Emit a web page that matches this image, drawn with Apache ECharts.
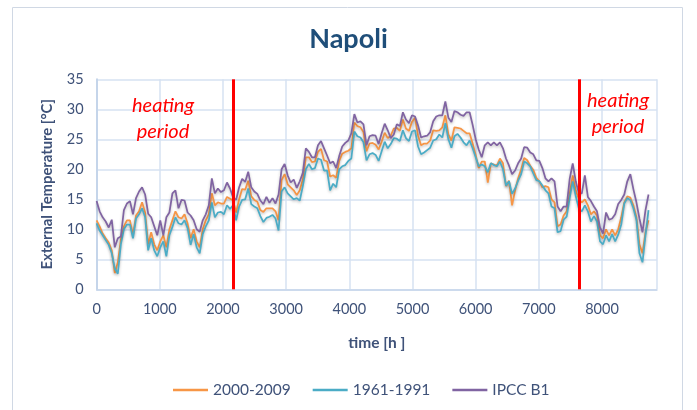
<!DOCTYPE html>
<html><head><meta charset="utf-8">
<script src="https://cdn.jsdelivr.net/npm/echarts@6/dist/echarts.min.js"></script>
<style>html,body{margin:0;padding:0;background:#fff}#c{width:697px;height:410px}</style>
</head><body><div id="c"></div>
<script>
// sampling times (h), every 48 h
const hours = Array.from({length: 183}, (_, i) => i * 48);
const seriesNames = ['2000-2009', '1961-1991', 'IPCC B1'];
const yTicks = [0, 5, 10, 15, 20, 25, 30, 35];
const xTicks = [0, 1000, 2000, 3000, 4000, 5000, 6000, 7000, 8000];
const heatingBounds = [2160, 7632];

const t2000_2009 = [
 11.5,10.5,9.3,8.5,7.8,6.5,2.7,4.5,8.3,10.5,11.5,11.5,9.0,12.3,13.0,14.5,12.8,7.5,9.5,7.5,6.5,8.0,9.0,7.0,10.0,11.5,13.0,12.0,11.8,12.5,11.0,8.5,10.0,8.0,7.0,10.0,11.5,12.5,16.0,
 14.0,14.5,14.3,14.3,15.4,15.1,14.8,12.8,15.0,16.7,16.6,18.1,15.5,14.9,14.6,13.2,12.9,13.5,13.5,13.5,13.0,11.5,18.2,19.2,17.5,17.0,16.5,15.7,16.5,18.3,22.0,22.0,21.2,21.3,22.9,23.4,21.5,
 21.3,18.8,19.0,18.6,21.4,22.6,22.9,23.1,23.5,27.8,27.2,27.0,26.2,23.0,24.3,24.4,24.1,23.3,24.6,26.1,25.2,25.6,26.8,26.9,26.4,28.3,26.8,26.4,27.9,28.6,25.6,24.0,24.3,24.3,24.8,26.5,
 26.4,26.5,27.0,29.0,25.8,24.8,27.0,26.9,26.8,26.4,26.0,26.0,24.3,22.4,20.2,21.3,21.3,17.8,21.0,20.8,20.6,21.8,21.0,17.2,18.1,14.0,16.5,18.5,20.0,21.9,21.5,20.6,19.9,18.6,18.0,17.0,
 17.2,17.0,15.0,14.5,10.5,10.8,12.3,13.0,16.0,19.0,16.5,15.0,14.5,15.0,14.0,12.5,13.0,12.3,9.0,8.5,10.0,9.0,10.0,9.0,10.0,12.0,14.5,15.5,15.3,14.0,12.0,7.5,6.0,9.5,11.5
];
const t1961_1991 = [
 11.0,9.8,9.0,8.2,7.4,6.0,3.5,2.6,7.5,10.0,10.8,10.8,8.5,11.8,12.5,13.5,12.0,6.5,8.5,6.5,5.5,7.0,8.0,5.5,9.0,10.4,12.0,11.0,10.8,11.5,10.2,7.4,9.2,7.0,6.0,9.2,10.5,11.5,14.5,
 12.0,12.8,12.9,12.5,14.0,13.4,14.0,11.5,13.8,14.9,15.0,16.8,14.2,13.8,13.5,12.2,11.2,11.9,12.1,12.4,11.8,9.8,16.3,17.0,16.0,15.5,15.0,15.2,14.8,17.2,20.0,20.9,20.0,20.2,21.8,21.6,19.8,
 19.8,16.5,17.6,17.0,20.0,20.5,20.7,21.4,21.8,26.3,25.5,25.3,24.5,21.5,22.5,22.7,22.4,21.4,23.0,24.6,23.5,24.2,25.2,25.1,24.7,26.5,25.2,24.7,26.3,26.5,23.8,22.5,22.8,23.2,23.6,24.8,
 25.0,25.8,25.3,27.7,25.0,23.6,25.5,25.9,25.3,24.5,24.0,24.8,23.5,22.0,20.5,20.8,20.5,19.5,21.0,20.7,20.5,21.3,20.0,17.3,18.0,15.9,16.8,18.1,19.2,21.3,21.0,20.5,19.3,18.2,18.0,17.3,
 16.5,16.0,13.8,13.5,9.5,9.7,11.6,12.1,15.2,18.0,15.5,13.5,13.0,14.0,13.0,11.3,12.2,11.3,8.0,7.5,9.0,8.0,9.2,8.0,9.1,10.8,14.3,15.2,14.9,13.5,11.6,6.0,4.5,9.0,13.2
];
const tIPCC_B1 = [
 14.7,13.0,12.0,11.3,10.3,11.6,7.0,8.5,8.8,13.2,14.3,14.7,12.5,15.2,16.3,17.0,15.8,12.6,12.0,10.5,9.0,11.5,9.0,12.0,12.8,16.0,16.5,13.5,14.9,14.8,12.8,12.3,11.5,10.0,9.6,11.5,12.5,14.0,18.5,
 16.0,16.8,16.2,16.5,17.8,16.8,15.3,14.9,17.0,18.4,17.9,19.6,17.0,16.3,15.9,14.8,14.2,15.4,14.4,15.2,14.3,15.8,20.0,20.9,19.0,17.8,18.3,16.9,18.0,19.4,23.5,22.9,22.0,22.0,24.0,24.7,23.5,
 22.3,21.0,21.3,20.2,22.2,23.8,24.4,24.8,26.0,29.2,27.8,28.0,27.5,24.0,25.5,25.7,25.6,24.2,26.0,27.6,26.5,25.2,25.8,27.5,27.2,29.5,28.3,27.7,29.0,28.8,27.3,25.3,25.5,25.6,26.2,28.0,
 28.8,29.0,29.0,31.3,28.6,27.9,29.7,29.5,29.1,28.9,29.5,29.5,27.4,25.0,23.3,22.0,24.0,24.5,24.0,24.5,24.0,24.5,23.5,21.8,20.6,19.2,19.8,21.0,21.8,23.7,23.6,22.8,22.5,21.5,21.4,20.2,
 18.5,18.0,18.5,18.0,13.8,13.0,13.8,13.8,18.4,21.0,18.0,16.0,16.0,19.0,15.4,14.7,13.8,13.0,10.3,9.3,12.8,11.6,11.8,12.5,14.2,14.9,15.8,18.0,19.2,16.7,14.5,11.8,9.5,13.2,15.8
];

const colors = ['#F79646', '#4BACC6', '#8064A2'];
const valuesList = [t2000_2009, t1961_1991, tIPCC_B1];
const textCol = '#3F5279';
const FONT = 'Lato';

const series = seriesNames.map((name, k) => ({
  name, type: 'line', showSymbol: false, symbol: 'none', animation: false,
  data: hours.map((h, i) => [h, valuesList[k][i]]),
  lineStyle: { color: colors[k], width: 1.75, shadowColor: 'rgba(0,0,0,0.25)', shadowBlur: 3, shadowOffsetY: 1.5 },
  itemStyle: { color: colors[k] },
  z: 2 + k
}));
series.push({
  name: 'heating', type: 'line', data: [], silent: true, z: 10,
  markLine: {
    silent: true, symbol: ['none', 'none'], label: { show: false },
    lineStyle: { color: '#FF0000', width: 3, type: 'solid' },
    data: heatingBounds.map(v => ({ xAxis: v }))
  }
});

const chart = echarts.init(document.getElementById('c'), null, { renderer: 'canvas' });
chart.setOption({
  animation: false,
  textStyle: { fontFamily: FONT },
  title: {
    text: 'Napoli', left: 'center', top: 21,
    textStyle: { fontFamily: FONT, fontSize: 27, fontWeight: 'bold', color: '#1F4E79' }
  },
  legend: {
    data: seriesNames, left: 168, top: 377, icon: 'rect', itemWidth: 35, itemHeight: 2.5, itemGap: 22,
    textStyle: { fontFamily: FONT, fontSize: 15.5, color: textCol, padding: [0, 0, 0, 0] }
  },
  grid: { left: 96.6, right: 40, top: 79.3, bottom: 120.7, containLabel: false },
  xAxis: {
    type: 'value', min: 0, max: 8870, interval: 1000,
    name: 'time [h ]', nameLocation: 'middle', nameGap: 46,
    nameTextStyle: { fontFamily: FONT, fontSize: 15.5, fontWeight: 'bold', color: textCol },
    axisLine: { show: true, lineStyle: { color: '#C5D5EA', width: 1.5 } },
    axisTick: { show: false },
    axisLabel: { fontFamily: FONT, fontSize: 14.5, color: textCol, margin: 13, showMaxLabel: false,
      formatter: v => xTicks.includes(v) ? String(v) : '' },
    splitLine: { show: true, lineStyle: { color: '#D6E2F2', width: 1.5 } }
  },
  yAxis: {
    type: 'value', min: 0, max: 35, interval: 5,
    name: 'External Temperature [°C]', nameLocation: 'middle', nameGap: 42,
    nameTextStyle: { fontFamily: FONT, fontSize: 14.8, fontWeight: 'bold', color: textCol },
    axisLine: { show: true, lineStyle: { color: '#C5D5EA', width: 2 } },
    axisTick: { show: false },
    axisLabel: { fontFamily: FONT, fontSize: 14.5, color: textCol, margin: 13,
      formatter: v => yTicks.includes(v) ? String(v) : '' },
    splitLine: { show: true, lineStyle: { color: '#D6E2F2', width: 1.5 } }
  },
  graphic: [
    { type: 'rect', silent: true, z: -10, shape: { x: 12.5, y: 7.5, width: 670, height: 420 },
      style: { fill: 'none', stroke: '#D0D8E4', lineWidth: 1 } },
    { type: 'text', silent: true, left: 132, top: 93, z: 20,
      style: { text: 'heating\n period', fill: '#FF0000', font: 'italic 20px Lato', lineHeight: 26 } },
    { type: 'text', silent: true, left: 587, top: 88, z: 20,
      style: { text: 'heating\n period', fill: '#FF0000', font: 'italic 20px Lato', lineHeight: 26 } }
  ],
  series
});
</script></body></html>
